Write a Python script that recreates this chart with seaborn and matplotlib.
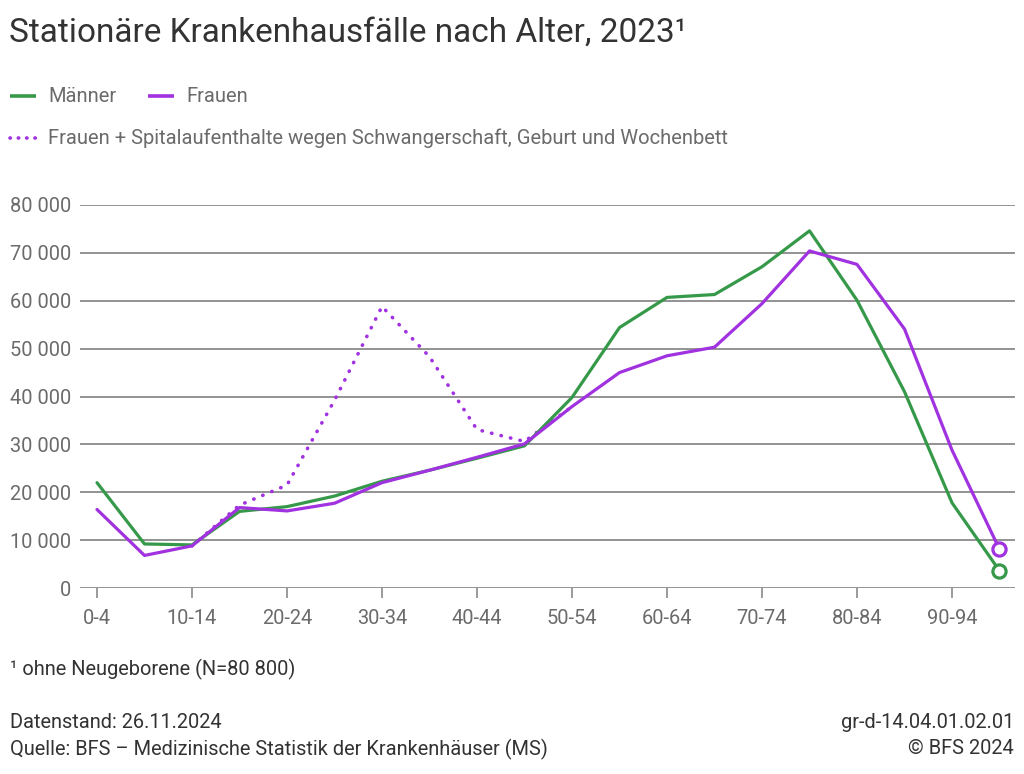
import numpy as np
import pandas as pd
import matplotlib
matplotlib.use("Agg")
import matplotlib.pyplot as plt
from matplotlib.lines import Line2D
import seaborn as sns

age_groups = ["0-4", "5-9", "10-14", "15-19", "20-24", "25-29", "30-34", "35-39",
              "40-44", "45-49", "50-54", "55-59", "60-64", "65-69", "70-74",
              "75-79", "80-84", "85-89", "90-94", "95+"]
maenner = [22000, 9200, 9000, 16000, 17000, 19200, 22300, 24600, 27100, 29700,
           39800, 54400, 60700, 61300, 67100, 74600, 60100, 41000, 17800, 3600]
frauen = [16400, 6800, 8800, 16800, 16100, 17700, 22000, 24600, 27300, 30100,
          37900, 45000, 48500, 50300, 59400, 70400, 67600, 54100, 28800, 8100]
frauen_schw = [np.nan, np.nan, 8800, 17300, 21500, 39200, 58800, 48300, 33100, 30600,
               37900, np.nan, np.nan, np.nan, np.nan, np.nan, np.nan, np.nan, np.nan, np.nan]

GREEN = "#36994a"
PURPLE = "#a132e0"
GRID = "#8a8a8a"
TXT = "#6b6b6b"
FS = 14.4

sns.set_theme(style="white")
plt.rcParams["font.family"] = ["Roboto", "DejaVu Sans"]

x = np.arange(len(age_groups))
df = pd.DataFrame({"x": x, "Männer": maenner, "Frauen": frauen, "Schw": frauen_schw})

fig = plt.figure(figsize=(10.24, 7.74), dpi=100)
ax = fig.add_axes([80 / 1024, 1 - 588 / 774, (1015 - 80) / 1024, (588 - 205) / 774])

dsub = df.dropna(subset=["Schw"])
sns.lineplot(data=dsub, x="x", y="Schw", ax=ax, color=PURPLE, linewidth=2.2,
             dashes=False, zorder=2)
ax.lines[-1].set_linestyle((0, (0.1, 2.6)))
ax.lines[-1].set_dash_capstyle("round")
ax.lines[-1].set_linewidth(2.6)

sns.lineplot(data=df, x="x", y="Männer", ax=ax, color=GREEN, linewidth=2.3, zorder=3)
sns.lineplot(data=df, x="x", y="Frauen", ax=ax, color=PURPLE, linewidth=2.3, zorder=4)

# end markers (last category)
sns.scatterplot(x=[x[-1]], y=[maenner[-1]], ax=ax, s=90, facecolor="white",
                edgecolor=GREEN, linewidth=2.3, zorder=5)
sns.scatterplot(x=[x[-1]], y=[frauen[-1]], ax=ax, s=90, facecolor="white",
                edgecolor=PURPLE, linewidth=2.3, zorder=6)

ax.set_xlim(-17 / 47.5, (1015 - 97) / 47.5)
ax.set_ylim(0, 80000)
yt = np.arange(0, 80001, 10000)
ax.set_yticks(yt)
ax.set_yticklabels([f"{v:,}".replace(",", " ") for v in yt])
ax.set_xticks(x[::2])
ax.set_xticklabels(age_groups[::2])
ax.yaxis.grid(True, color=GRID, linewidth=1.3)
ax.xaxis.grid(False)
ax.set_axisbelow(True)
for s in ["top", "right", "left", "bottom"]:
    ax.spines[s].set_visible(False)
ax.set_xlabel("")
ax.set_ylabel("")
ax.tick_params(axis="y", length=0, pad=6.5, labelsize=FS, labelcolor=TXT)
ax.tick_params(axis="x", length=7, width=1.2, color=GRID, pad=8, labelsize=FS,
               labelcolor=TXT, direction="out", bottom=True)

# Title
fig.text(9 / 1024, 1 - 33 / 774, "Stationäre Krankenhausfälle nach Alter, 2023¹",
         fontsize=24, color="#333333", va="center", ha="left")

# Legend
def leg_item(x0, y0, color, style, label):
    ln = Line2D([x0 / 1024, (x0 + 26) / 1024], [1 - y0 / 774, 1 - y0 / 774],
                transform=fig.transFigure, color=color, linewidth=2.6,
                linestyle=style, solid_capstyle="butt", dash_capstyle="round")
    fig.add_artist(ln)
    fig.text((x0 + 38) / 1024, 1 - y0 / 774, label, fontsize=14.5, color=TXT,
             va="center", ha="left")

leg_item(10, 96, GREEN, "-", "Männer")
leg_item(148, 96, PURPLE, "-", "Frauen")
leg_item(10, 138, PURPLE, (0, (0.1, 2.2)),
         "Frauen + Spitalaufenthalte wegen Schwangerschaft, Geburt und Wochenbett")

# Footer
fig.text(10 / 1024, 1 - 669 / 774, "¹ ohne Neugeborene (N=80 800)", fontsize=FS,
         color="#333333", va="center", ha="left")
fig.text(10 / 1024, 1 - 723 / 774, "Datenstand: 26.11.2024", fontsize=FS,
         color="#333333", va="center", ha="left")
fig.text(10 / 1024, 1 - 749 / 774, "Quelle: BFS – Medizinische Statistik der Krankenhäuser (MS)",
         fontsize=FS, color="#333333", va="center", ha="left")
fig.text(1014 / 1024, 1 - 723 / 774, "gr-d-14.04.01.02.01", fontsize=FS,
         color="#333333", va="center", ha="right")
fig.text(1014 / 1024, 1 - 749 / 774, "© BFS 2024", fontsize=FS,
         color="#333333", va="center", ha="right")

fig.savefig("out.png", dpi=100, facecolor="white")
